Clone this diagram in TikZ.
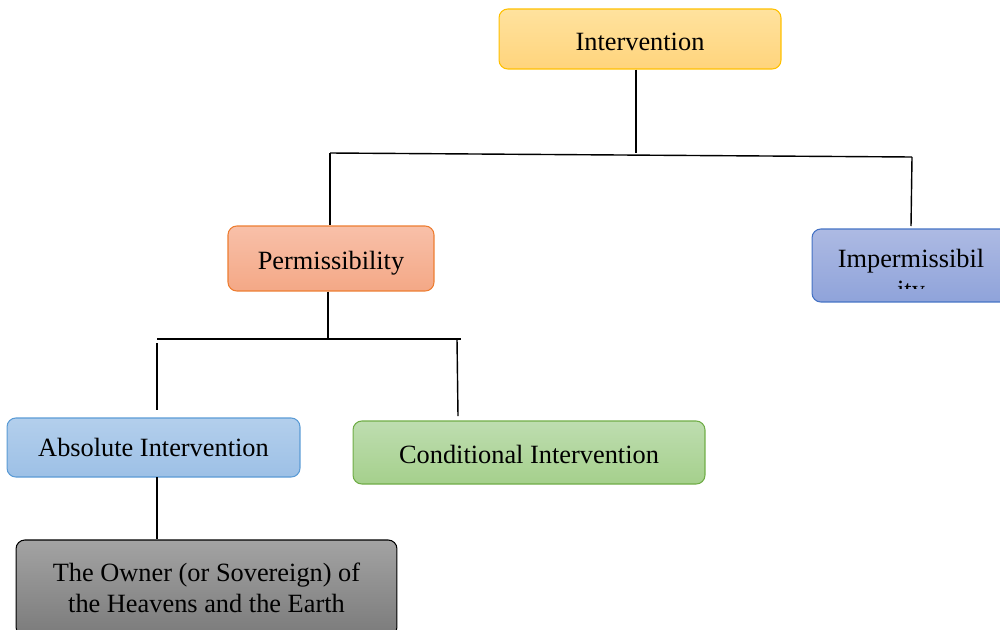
\documentclass[tikz,border=0pt]{standalone}
\usepackage{fontspec}
\setmainfont{Liberation Serif}
\usetikzlibrary{positioning}

\definecolor{yelTop}{HTML}{FFE29E}
\definecolor{yelBot}{HTML}{FFD47C}
\definecolor{yelLine}{HTML}{FFC000}
\definecolor{salTop}{HTML}{F8C0A9}
\definecolor{salBot}{HTML}{F4A886}
\definecolor{salLine}{HTML}{ED7D31}
\definecolor{impTop}{HTML}{ADBAE3}
\definecolor{impBot}{HTML}{8FA3DA}
\definecolor{impLine}{HTML}{4472C4}
\definecolor{absTop}{HTML}{B3CFEC}
\definecolor{absBot}{HTML}{9DC0E6}
\definecolor{absLine}{HTML}{5B9BD5}
\definecolor{conTop}{HTML}{BEDDB0}
\definecolor{conBot}{HTML}{A5D08C}
\definecolor{conLine}{HTML}{70AD47}
\definecolor{ownTop}{HTML}{A3A3A3}
\definecolor{ownBot}{HTML}{7B7B7B}

\begin{document}
\begin{tikzpicture}[
    x=0.02cm, y=-0.02cm,
    box/.style={draw, rounded corners=5pt, line width=0.6pt, inner sep=0pt,
        align=center, font=\fontsize{15}{17.6}\selectfont},
    conn/.style={line width=0.8pt}
    ]
    \clip (0,0) rectangle (1000,629);
    \node[box, top color=yelTop, bottom color=yelBot, draw=yelLine, text height=0.47cm,
        minimum width=5.64cm, minimum height=1.2cm] (interv) at (640,39) {Intervention};
    \node[box, top color=salTop, bottom color=salBot, draw=salLine, text height=0.56cm,
        minimum width=4.12cm, minimum height=1.3cm] (perm) at (331,258.5) {Permissibility};
    \node[box, top color=impTop, bottom color=impBot, draw=impLine,
        minimum width=3.96cm, minimum height=1.46cm] (imperm) at (911,265.5) {};
    \begin{scope}
        \clip (800,229) rectangle (1000,288);
        \node[align=center, font=\fontsize{15}{17.6}\selectfont] (impermtext) at (911,277) {Impermissibil\\ity};
    \end{scope}
    \node[box, top color=absTop, bottom color=absBot, draw=absLine,
        minimum width=5.86cm, minimum height=1.18cm] (absint) at (153.5,447.5) {Absolute Intervention};
    \node[box, top color=conTop, bottom color=conBot, draw=conLine, text height=0.43cm,
        minimum width=7.04cm, minimum height=1.26cm] (condint) at (529,452.5) {Conditional Intervention};
    \node[box, top color=ownTop, bottom color=ownBot, draw=black,
        minimum width=7.62cm, minimum height=1.92cm] (owner) at (206.5,588) {The Owner (or Sovereign) of\\the Heavens and the Earth};

    % first level
    \coordinate (topmid) at (636,153);
    \coordinate (topleft) at (330,153);
    \coordinate (topright) at (912,157);
    \coordinate (impstub) at (911,226);
    \draw[conn] (interv.south -| topmid) -- (topmid);
    \draw[conn] (topleft) -- (topright);
    \draw[conn] (topleft) -- (perm.north -| topleft);
    \draw[conn] (topright) -- (impstub);

    % second level
    \coordinate (midj) at (328,339);
    \coordinate (midleft) at (157,339);
    \coordinate (midright) at (461,339);
    \coordinate (absstub) at (157,410);
    \coordinate (condtop) at (457,339);
    \coordinate (condstub) at (458,416);
    \draw[conn] (perm.south -| midj) -- (midj);
    \draw[conn] (midleft) -- (midright);
    \draw[conn] (157,343) -- (absstub);
    \draw[conn] (condtop) -- (condstub);

    % third level
    \coordinate (ownj) at (157,477);
    \draw[conn] (ownj) -- (owner.north -| ownj);
\end{tikzpicture}
\end{document}
